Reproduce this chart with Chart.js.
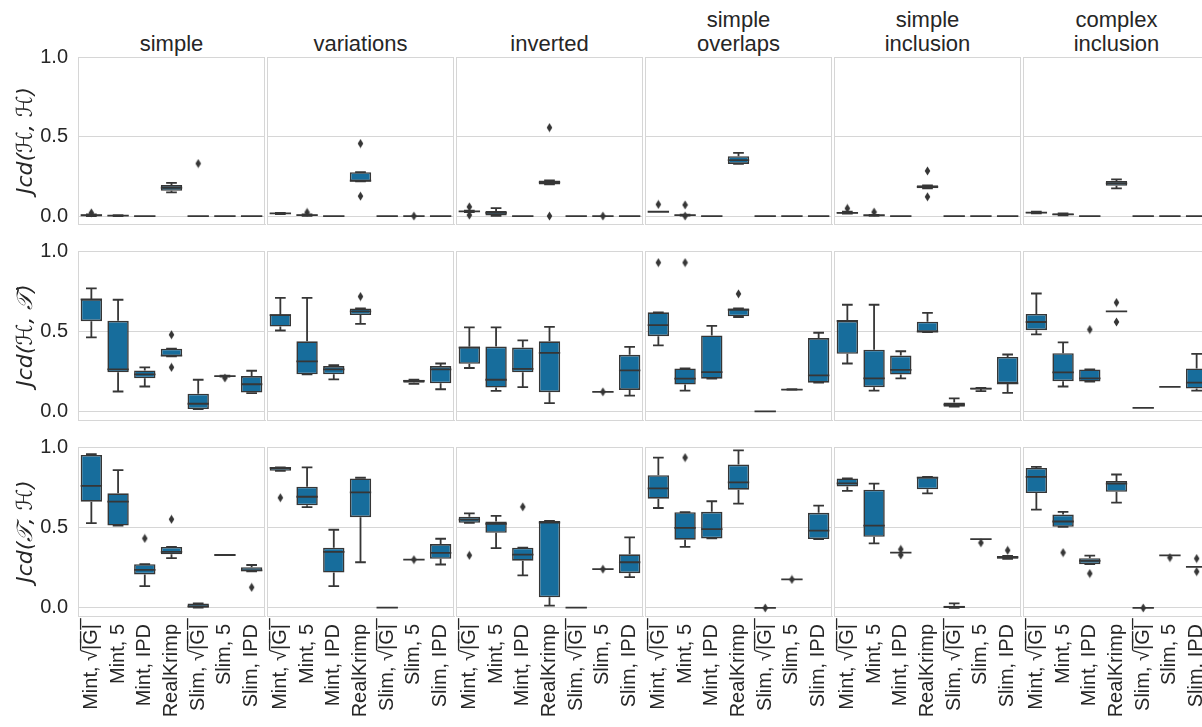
<!DOCTYPE html>
<html><head><meta charset="utf-8">
<script src="https://cdn.jsdelivr.net/npm/chart.js@4.4.1/dist/chart.umd.min.js"></script>
<style>
html,body{margin:0;padding:0;background:#fff;overflow:hidden;width:1202px;height:727px;position:relative;}
.t{position:absolute;font:22px "Liberation Sans",Arial,sans-serif;color:#262626;text-align:center;line-height:24.4px;}
canvas{position:absolute;}
</style></head><body>
<script>
// ---------- data ----------
const categories = ['Mint, \u221A|\u0305G\u0305|\u0305', 'Mint, 5', 'Mint, IPD', 'RealKrimp', 'Slim, \u221A|\u0305G\u0305|\u0305', 'Slim, 5', 'Slim, IPD'];
const panelTitles = [['simple'], ['variations'], ['inverted'], ['simple', 'overlaps'], ['simple', 'inclusion'], ['complex', 'inclusion']];
const metricLabels = ['Jcd(\u210B, \u210B)', 'Jcd(\u210B, \uD835\uDCAF)', 'Jcd(\uD835\uDCAF, \u210B)'];
const yTicks = [0, 0.5, 1.0];

// box stats per panel, per category: [lowWhisker, q1, median, q3, highWhisker]
const statsHH = [
  [[0,0,0.005,0.01,0.01],[0,0,0.003,0.006,0.006],[0,0,0,0,0],[0.149,0.159,0.178,0.195,0.209],[0,0,0,0,0],[0,0,0,0,0],[0,0,0,0,0]],
  [[0.013,0.015,0.017,0.019,0.02],[0.002,0.004,0.006,0.009,0.01],[0,0,0,0,0],[0.218,0.218,0.222,0.276,0.276],[0,0,0,0,0],[0,0,0,0,0],[0,0,0,0,0]],
  [[0.025,0.027,0.03,0.032,0.034],[0.002,0.004,0.02,0.031,0.05],[0,0,0,0,0],[0.199,0.199,0.212,0.224,0.224],[0,0,0,0,0],[0,0,0,0,0],[0,0,0,0,0]],
  [[0.026,0.026,0.027,0.028,0.028],[0.003,0.004,0.006,0.008,0.009],[0,0,0,0,0],[0.328,0.328,0.351,0.376,0.397],[0,0,0,0,0],[0,0,0,0,0],[0,0,0,0,0]],
  [[0.015,0.016,0.02,0.025,0.027],[0.002,0.003,0.005,0.007,0.008],[0,0,0,0,0],[0.174,0.174,0.183,0.193,0.193],[0,0,0,0,0],[0,0,0,0,0],[0,0,0,0,0]],
  [[0.017,0.018,0.022,0.026,0.027],[0.005,0.006,0.01,0.016,0.017],[0,0,0,0,0],[0.174,0.19,0.205,0.22,0.23],[0,0,0,0,0],[0,0,0,0,0],[0,0,0,0,0]]
];
// outliers per panel: [categoryIndex, value]
const fliersHH = [
  [[0,0.02],[4,0.33]],
  [[1,0.023],[3,0.456],[3,0.125],[5,0.0]],
  [[0,0.058],[0,0.006],[3,0.556],[3,0.0],[5,0.0]],
  [[0,0.073],[1,0.07],[1,0.0]],
  [[0,0.048],[1,0.025],[3,0.284],[3,0.121]],
  []
];

const statsHT = [
  [[0.463,0.564,0.70,0.701,0.768],[0.127,0.246,0.264,0.566,0.697],[0.158,0.209,0.234,0.258,0.277],[0.346,0.346,0.35,0.393,0.393],[0.018,0.018,0.051,0.113,0.2],[0.22,0.22,0.223,0.225,0.225],[0.117,0.121,0.172,0.223,0.256]],
  [[0.506,0.531,0.602,0.607,0.709],[0.234,0.234,0.314,0.439,0.709],[0.203,0.234,0.264,0.285,0.291],[0.547,0.602,0.625,0.643,0.643],null,[0.174,0.182,0.193,0.2,0.2],[0.141,0.178,0.264,0.285,0.301]],
  [[0.273,0.299,0.40,0.406,0.525],[0.131,0.152,0.2,0.406,0.525],[0.154,0.246,0.268,0.4,0.445],[0.055,0.123,0.367,0.439,0.529],null,[0.125,0.125,0.125,0.125,0.125],[0.102,0.137,0.258,0.355,0.404]],
  [[0.414,0.471,0.539,0.619,0.619],[0.133,0.17,0.207,0.27,0.27],[0.207,0.207,0.248,0.475,0.535],[0.59,0.594,0.635,0.643,0.643],[0.004,0.004,0.004,0.004,0.004],[0.137,0.137,0.139,0.141,0.141],[0.182,0.182,0.227,0.459,0.492]],
  [[0.301,0.361,0.566,0.566,0.666],[0.133,0.154,0.209,0.387,0.666],[0.209,0.232,0.262,0.35,0.377],[0.496,0.496,0.5,0.561,0.615],[0.033,0.033,0.045,0.059,0.084],[0.129,0.139,0.145,0.15,0.15],[0.119,0.178,0.178,0.342,0.357]],
  [[0.482,0.508,0.559,0.609,0.736],[0.158,0.191,0.246,0.365,0.432],[0.189,0.189,0.209,0.264,0.264],[0.625,0.625,0.625,0.625,0.625],[0.025,0.025,0.025,0.025,0.025],[0.156,0.156,0.156,0.156,0.156],[0.133,0.145,0.182,0.27,0.361]]
];
const fliersHT = [
  [[3,0.48],[3,0.277],[5,0.211]],
  [[3,0.717]],
  [[5,0.125]],
  [[0,0.928],[1,0.928],[3,0.734]],
  [],
  [[2,0.512],[3,0.68],[3,0.559]]
];

const statsTH = [
  [[0.527,0.66,0.759,0.951,0.955],[0.512,0.512,0.66,0.712,0.856],[0.136,0.208,0.237,0.272,0.272],[0.309,0.333,0.348,0.379,0.379],[0.002,0.002,0.01,0.027,0.029],[0.329,0.329,0.329,0.329,0.329],[0.228,0.228,0.233,0.253,0.267]],
  [[0.852,0.852,0.87,0.874,0.874],[0.626,0.638,0.691,0.753,0.874],[0.136,0.22,0.348,0.374,0.486],[0.284,0.564,0.718,0.805,0.809],[0.002,0.002,0.002,0.002,0.002],[0.3,0.3,0.3,0.3,0.3],[0.27,0.305,0.342,0.397,0.43]],
  [[0.529,0.529,0.549,0.566,0.588],[0.372,0.467,0.523,0.537,0.572],[0.202,0.294,0.331,0.374,0.374],[0.014,0.066,0.531,0.541,0.541],[0.002,0.002,0.002,0.002,0.002],[0.241,0.241,0.241,0.241,0.241],[0.191,0.216,0.284,0.333,0.438]],
  [[0.621,0.679,0.743,0.825,0.934],[0.379,0.424,0.498,0.595,0.595],[0.432,0.432,0.49,0.597,0.663],[0.648,0.735,0.78,0.891,0.979],[0,0,0,0,0],[0.177,0.177,0.177,0.177,0.177],[0.428,0.428,0.481,0.591,0.636]],
  [[0.728,0.755,0.774,0.805,0.805],[0.401,0.442,0.512,0.735,0.772],[0.344,0.344,0.344,0.344,0.344],[0.712,0.737,0.81,0.815,0.815],[0,0,0.005,0.014,0.029],[0.428,0.428,0.428,0.428,0.428],[0.305,0.305,0.315,0.323,0.323]],
  [[0.611,0.714,0.815,0.87,0.877],[0.504,0.504,0.537,0.58,0.597],[0.272,0.272,0.292,0.309,0.325],[0.654,0.722,0.772,0.788,0.829],[0,0,0,0,0],[0.327,0.327,0.327,0.327,0.327],[0.255,0.255,0.255,0.255,0.255]]
];
const fliersTH = [
  [[2,0.432],[3,0.551],[6,0.128]],
  [[0,0.685],[5,0.3]],
  [[0,0.327],[2,0.628],[5,0.241]],
  [[1,0.934],[4,0.0],[5,0.177]],
  [[2,0.364],[2,0.329],[5,0.405],[6,0.358]],
  [[1,0.344],[2,0.214],[4,0.0],[5,0.313],[6,0.307],[6,0.226]]
];

// ---------- style / layout ----------
const BOX = '#176D9C', LINE = '#363636', GRID = '#d6d6d6', TEXT = '#262626';
const FONT = '"Liberation Sans", Arial, sans-serif';
const colLeft = [78, 267, 456, 645, 834, 1023];
const panelW = 187;
const rowTop = [57, 251, 447];
const rowBot = [224, 420, 616];

Chart.defaults.font.family = FONT;

const diamond = (() => {
  const c = document.createElement('canvas'); c.width = 7; c.height = 10;
  const g = c.getContext('2d'); g.fillStyle = LINE;
  g.beginPath(); g.moveTo(3.5, 0.5); g.lineTo(6.3, 5); g.lineTo(3.5, 9.5); g.lineTo(0.7, 5); g.closePath(); g.fill();
  return c;
})();

function boxPlugin(stats) {
  return {
    id: 'boxWhiskers',
    afterDatasetsDraw(chart) {
      const ctx = chart.ctx, y = chart.scales.y, meta = chart.getDatasetMeta(0);
      ctx.save();
      ctx.strokeStyle = LINE; ctx.lineWidth = 1.8; ctx.lineCap = 'butt';
      stats.forEach((s, i) => {
        if (!s) return;
        const el = meta.data[i]; const x = el.x, w = el.width, cap = w * 0.25;
        const [lo, q1, md, q3, hi] = s.map(v => y.getPixelForValue(v));
        ctx.beginPath();
        ctx.moveTo(x, q3); ctx.lineTo(x, hi);
        ctx.moveTo(x, q1); ctx.lineTo(x, lo);
        ctx.moveTo(x - cap, hi); ctx.lineTo(x + cap, hi);
        ctx.moveTo(x - cap, lo); ctx.lineTo(x + cap, lo);
        ctx.moveTo(x - w / 2, md); ctx.lineTo(x + w / 2, md);
        ctx.stroke();
      });
      ctx.restore();
    }
  };
}
const spines = {
  id: 'spines',
  beforeDatasetsDraw(chart) {
    const ctx = chart.ctx, a = chart.chartArea;
    ctx.save(); ctx.strokeStyle = GRID; ctx.lineWidth = 1;
    ctx.beginPath();
    ctx.moveTo(a.left, Math.round(a.top) + 0.5); ctx.lineTo(a.right, Math.round(a.top) + 0.5);
    ctx.moveTo(Math.round(a.right) - 0.5, a.top); ctx.lineTo(Math.round(a.right) - 0.5, a.bottom);
    ctx.stroke(); ctx.restore();
  }
};

// titles
panelTitles.forEach((lines, c) => {
  const d = document.createElement('div');
  d.className = 't';
  d.style.left = colLeft[c] + 'px';
  d.style.width = panelW + 'px';
  d.style.top = (56.3 - 24.4 * lines.length) + 'px';
  d.innerHTML = lines.join('<br>');
  document.body.appendChild(d);
});

const rows = [[statsHH, fliersHH], [statsHT, fliersHT], [statsTH, fliersTH]];
rows.forEach(([stats, fliers], r) => {
  for (let c = 0; c < 6; c++) {
    const padL = c === 0 ? 78 : 1, padT = 26, padR = 30, padB = r === 2 ? 111 : 26;
    const h = rowBot[r] - rowTop[r];
    const cv = document.createElement('canvas');
    cv.width = padL + panelW + padR; cv.height = padT + h + padB;
    cv.style.width = cv.width + 'px'; cv.style.height = cv.height + 'px';
    cv.style.left = (colLeft[c] - padL) + 'px';
    cv.style.top = (rowTop[r] - padT) + 'px';
    document.body.appendChild(cv);
    const st = stats[c];
    const chart = new Chart(cv, {
      type: 'bar',
      data: {
        labels: categories,
        datasets: [
          {
            type: 'bar',
            data: st.map(s => s ? [s[1], s[3]] : null),
            backgroundColor: BOX, borderColor: LINE, borderWidth: 1.6, borderSkipped: false,
            barPercentage: 0.8, categoryPercentage: 1.0, order: 2
          },
          {
            type: 'line', showLine: false,
            data: fliers[c].map(([ci, v]) => ({ x: categories[ci], y: v })),
            pointStyle: diamond, pointRadius: 4, pointHoverRadius: 4, order: 1, clip: false
          }
        ]
      },
      options: {
        responsive: false, maintainAspectRatio: false, animation: false, devicePixelRatio: 1, events: [],
        layout: { padding: { top: padT, right: padR, left: 0, bottom: 0 } },
        plugins: { legend: { display: false }, tooltip: { enabled: false }, title: { display: false } },
        scales: {
          x: {
            type: 'category', offset: true,
            grid: { display: false, drawTicks: false },
            border: { display: true, color: GRID, width: 1 },
            ticks: { display: r === 2, autoSkip: false, minRotation: 90, maxRotation: 90, padding: 8, color: TEXT, font: { size: 20, family: FONT } },
            afterFit: s => { s.height = padB; }
          },
          y: {
            type: 'linear', min: -0.05, max: 1.0,
            afterBuildTicks: s => { s.ticks = yTicks.map(v => ({ value: v })); },
            afterFit: s => { s.width = padL; },
            grid: { color: GRID, lineWidth: 1, drawTicks: false },
            border: { display: true, color: GRID, width: 1 },
            ticks: { display: c === 0, padding: 10, color: TEXT, font: { size: 20, family: FONT }, callback: v => Number(v).toFixed(1) },
            title: { display: c === 0, text: metricLabels[r], color: TEXT, font: { size: 22, style: 'italic', family: '"DejaVu Sans", sans-serif' }, padding: { top: 13.5, bottom: 0 } }
          }
        }
      },
      plugins: [spines, boxPlugin(st)]
    });
    // make the plot area exactly the panel size, then place it
    let a = chart.chartArea;
    const dw = panelW - (a.right - a.left), dh = h - (a.bottom - a.top);
    if (Math.abs(dw) > 0.01 || Math.abs(dh) > 0.01) {
      chart.resize(Math.round(cv.width + dw), Math.round(cv.height + dh));
      a = chart.chartArea;
    }
    cv.style.left = (colLeft[c] - a.left) + 'px';
    cv.style.top = (rowTop[r] - a.top) + 'px';
  }
});
</script>
</body></html>
